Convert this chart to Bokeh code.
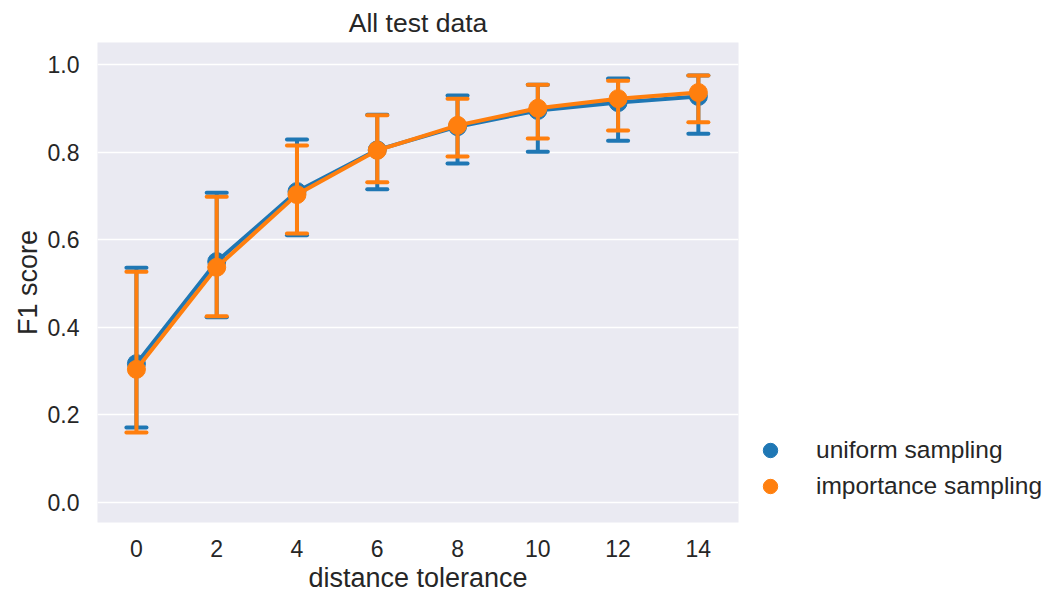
from bokeh.plotting import figure
from bokeh.models import ColumnDataSource, Legend, LegendItem, FixedTicker, Range1d, CustomJSTickFormatter
from bokeh.embed import file_html
from bokeh.resources import INLINE

tolerance = [0, 2, 4, 6, 8, 10, 12, 14]
uniform_mean = [0.317, 0.550, 0.710, 0.805, 0.858, 0.895, 0.913, 0.927]
uniform_lo = [0.171, 0.423, 0.610, 0.715, 0.774, 0.801, 0.826, 0.842]
uniform_hi = [0.536, 0.707, 0.829, 0.885, 0.929, 0.954, 0.968, 0.975]
importance_mean = [0.304, 0.537, 0.703, 0.804, 0.861, 0.900, 0.922, 0.936]
importance_lo = [0.160, 0.425, 0.614, 0.731, 0.790, 0.831, 0.849, 0.868]
importance_hi = [0.527, 0.698, 0.815, 0.884, 0.922, 0.954, 0.963, 0.975]
series_names = ["uniform sampling", "importance sampling"]
series_colors = ["#1f77b4", "#ff7f0e"]
y_ticks = [0.0, 0.2, 0.4, 0.6, 0.8, 1.0]

FONT = "Liberation Sans"
TXT = "#262626"
CAP = 0.25

p = figure(frame_width=641, frame_height=480, output_backend="svg", toolbar_location=None,
           x_range=Range1d(-0.97, 15.0), y_range=Range1d(-0.0457, 1.0502),
           min_border_left=97, min_border_right=0, min_border_top=42, min_border_bottom=69,
           title="All test data")
p.background_fill_color = "#eaeaf2"
p.border_fill_color = "white"
p.outline_line_color = None
p.xgrid.grid_line_color = None
p.ygrid.grid_line_color = "white"
p.ygrid.grid_line_width = 1.5
p.title.align = "center"
p.title.text_font = FONT
p.title.text_font_size = "26.5px"
p.title.text_font_style = "normal"
p.title.text_color = TXT

p.xaxis.ticker = FixedTicker(ticks=tolerance)
p.yaxis.ticker = FixedTicker(ticks=y_ticks)
p.xaxis.axis_label = "distance tolerance"
p.yaxis.axis_label = "F1 score"
for ax in (p.xaxis[0], p.yaxis[0]):
    ax.axis_line_color = None
    ax.major_tick_line_color = None
    ax.minor_tick_line_color = None
    ax.major_label_text_font = FONT
    ax.major_label_text_font_size = "23px"
    ax.major_label_text_color = TXT
    ax.axis_label_text_font = FONT
    ax.axis_label_text_font_size = "27px"
    ax.axis_label_text_font_style = "normal"
    ax.axis_label_text_color = TXT
p.xaxis.major_label_standoff = 11
p.yaxis.major_label_standoff = 12
p.xaxis.axis_label_standoff = 3
p.yaxis.axis_label_standoff = 2
p.yaxis.formatter = CustomJSTickFormatter(code="return tick.toFixed(1);")

items = []
for name, col, m, lo, hi in [
    (series_names[0], series_colors[0], uniform_mean, uniform_lo, uniform_hi),
    (series_names[1], series_colors[1], importance_mean, importance_lo, importance_hi),
]:
    src = ColumnDataSource(dict(x=tolerance, m=m, lo=lo, hi=hi,
                                x0=[t - CAP for t in tolerance], x1=[t + CAP for t in tolerance]))
    p.line("x", "m", source=src, line_color=col, line_width=4)
    p.segment("x", "lo", "x", "hi", source=src, line_color=col, line_width=4)
    p.segment("x0", "lo", "x1", "lo", source=src, line_color=col, line_width=4, line_cap="round")
    p.segment("x0", "hi", "x1", "hi", source=src, line_color=col, line_width=4, line_cap="round")
    r = p.scatter("x", "m", source=src, size=18, fill_color=col, line_color=col)
    items.append(LegendItem(label=name, renderers=[r]))

legend = Legend(items=items, location=(0, 18), orientation="vertical")
legend.margin = 0
legend.padding = 0
legend.border_line_color = None
legend.background_fill_alpha = 0
legend.glyph_width = 64
legend.glyph_height = 36
legend.label_height = 36
legend.label_standoff = 14
legend.spacing = 0
legend.label_text_font = FONT
legend.label_text_font_size = "24.5px"
legend.label_text_color = TXT
p.add_layout(legend, "right")

open("out.html", "w").write(file_html(p, INLINE))
